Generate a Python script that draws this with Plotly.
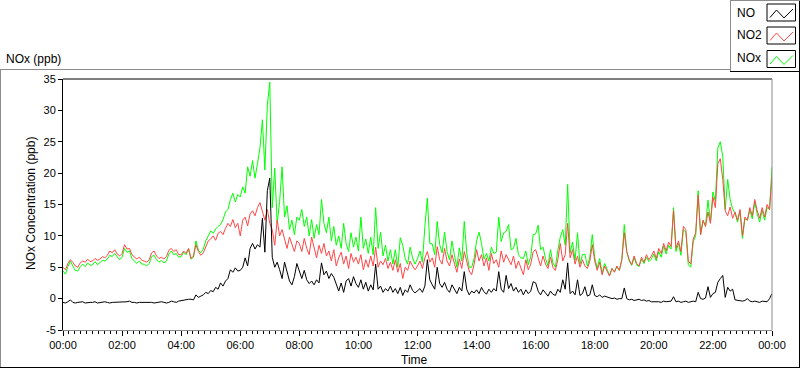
import plotly.graph_objects as go
import pandas as pd

# ---------------- data (5-minute readings, 00:00 .. 24:00) ----------------
times = pd.date_range("2000-01-01 00:00", "2000-01-02 00:00", freq="5min")

no = [
    -0.6, -0.7, -0.5, -0.2, -0.6, -0.7, -0.6, -0.6, -0.5, -0.7, -0.6, -0.6,
    -0.6, -0.5, -0.7, -0.6, -0.6, -0.5, -0.6, -0.7, -0.6, -0.6, -0.5, -0.6,
    -0.6, -0.6, -0.5, -0.4, -0.6, -0.6, -0.7, -0.6, -0.6, -0.5, -0.6, -0.6,
    -0.6, -0.7, -0.6, -0.6, -0.5, -0.6, -0.7, -0.6, -0.4, -0.5, -0.6, -0.4,
    -0.3, -0.2, -0.2, -0.1, -0.1, -0.2, 0.6, 0.2, 0.4, 0.6, 1.0, 0.8,
    1.3, 1.1, 1.8, 1.5, 2.5, 2.0, 2.8, 3.2, 4.6, 4.2, 4.9, 4.4,
    4.5, 5.0, 6.5, 5.2, 8.0, 8.8, 7.9, 8.6, 8.2, 12.8, 7.4, 17.2,
    19.2, 6.6, 5.0, 5.8, 4.6, 3.2, 5.8, 4.2, 2.8, 2.2, 3.5, 5.6,
    4.2, 3.2, 4.5, 3.0, 2.4, 2.8, 2.2, 3.0, 2.5, 5.7, 3.8, 4.4,
    3.2, 4.0, 3.4, 2.2, 1.2, 2.5, 1.0, 2.8, 3.2, 2.0, 3.5, 2.4,
    1.8, 3.0, 1.5, 2.6, 1.2, 2.2, 1.4, 5.5, 1.5, 2.0, 1.0, 1.6,
    1.2, 2.0, 1.0, 1.6, 0.8, 1.8, 0.5, 1.4, 1.0, 2.2, 1.3, 0.9,
    1.2, 1.6, 1.0, 2.0, 6.2, 3.0, 2.2, 1.5, 5.0, 2.4, 1.8, 2.6,
    1.5, 1.0, 2.2, 1.4, 0.8, 1.8, 1.2, 4.3, 1.5, 0.6, 1.2, 0.9,
    1.4, 0.8, 1.8, 1.1, 0.7, 1.5, 1.0, 1.6, 1.2, 4.3, 1.5, 1.0,
    3.7, 1.6, 2.4, 1.2, 1.8, 1.0, 1.5, 0.6, 1.4, 0.8, 1.2, 2.7,
    2.5, 1.2, 0.6, 1.4, 0.9, 0.4, 1.2, 0.7, 0.5, 1.5, 1.0, 3.0,
    1.5, 5.7, 0.8, 1.2, 0.6, 3.0, 0.5, 0.8, 1.9, 0.4, 0.6, 2.2,
    0.5, 0.3, 0.6, 0.2, 0.4, 0.3, 0.1, 0.0, 0.1, -0.1, 0.0, 0.0,
    1.7, 0.0, -0.2, -0.1, -0.3, -0.2, -0.1, -0.3, -0.2, -0.4, -0.3, -0.5,
    -0.5, -0.4, -0.5, -0.6, -0.4, -0.5, -0.5, -0.4, 0.3, -0.5, -0.4, -0.6,
    -0.5, -0.4, -0.6, -0.5, -0.4, -0.5, 1.0, 0.0, -0.1, 0.1, 1.9, 0.2,
    0.8, 1.0, 2.6, 3.2, 3.7, 0.2, 1.8, 1.2, 1.5, -0.2, -0.3, -0.3,
    -0.4, -0.3, 0.0, -0.4, -0.5, -0.4, -0.5, -0.6, -0.4, -0.5, -0.5, 0.0,
    0.8,
]

no2 = [
    5.0, 4.6, 5.6, 6.2, 5.8, 5.2, 5.0, 5.7, 6.0, 5.8, 6.3, 5.9,
    6.0, 6.4, 6.1, 6.3, 6.7, 6.5, 6.9, 7.6, 7.3, 7.8, 7.1, 6.8,
    7.2, 8.6, 7.9, 8.0, 7.0, 6.6, 6.3, 6.6, 6.1, 6.0, 5.8, 6.2,
    7.3, 7.6, 6.8, 6.4, 6.6, 6.3, 6.7, 7.7, 8.0, 7.5, 7.8, 7.0,
    7.0, 7.6, 7.2, 8.0, 6.4, 6.8, 8.6, 7.5, 6.9, 7.3, 8.2, 9.2,
    9.5, 10.0, 9.3, 10.4, 10.7, 10.2, 11.2, 12.0, 11.5, 12.6, 11.3, 12.0,
    10.0, 12.5, 13.0, 11.6, 13.5, 14.0, 13.2, 14.5, 15.3, 14.0, 12.5, 14.2,
    12.0, 11.0, 8.5, 12.5, 10.0, 11.0, 9.5, 8.0, 9.8, 8.5, 7.5, 9.2,
    8.8, 7.5, 9.6, 8.0, 7.0, 9.8, 8.2, 6.5, 8.5, 7.2, 8.8, 6.8,
    7.6, 6.0, 7.8, 5.2, 6.5, 7.4, 5.5, 6.8, 4.8, 7.2, 5.8, 6.6,
    5.5, 7.0, 4.6, 6.2, 5.0, 6.8, 5.2, 8.2, 5.0, 6.0, 5.4, 6.4,
    4.8, 5.8, 4.5, 6.2, 4.2, 5.6, 3.2, 5.0, 4.5, 6.0, 5.2, 4.6,
    5.2, 6.0, 4.8, 6.5, 7.5, 5.8, 6.5, 5.0, 8.3, 6.2, 5.5, 8.0,
    6.0, 5.2, 7.0, 5.5, 4.2, 6.3, 4.8, 7.5, 5.8, 4.4, 3.8, 5.5,
    7.8, 6.0, 7.0, 5.2, 6.5, 4.5, 7.2, 5.6, 6.2, 5.0, 7.6, 5.8,
    7.0, 6.2, 5.4, 6.8, 4.8, 6.0, 5.0, 3.8, 6.2, 4.6, 5.5, 7.5,
    7.8, 6.5, 5.2, 6.8, 5.5, 4.8, 6.6, 5.0, 4.5, 6.2, 8.8, 6.0,
    7.0, 12.0, 6.5, 7.8, 5.5, 6.8, 5.0, 6.2, 5.2, 4.8, 6.0, 8.6,
    6.0, 4.5, 5.8, 3.8, 5.2, 4.4, 3.6, 4.8, 4.2, 5.2, 4.5, 6.2,
    10.5, 7.5, 6.2, 5.4, 6.8, 5.6, 5.2, 6.6, 5.8, 7.0, 6.2, 6.8,
    7.6, 6.4, 8.0, 7.2, 8.8, 7.6, 9.0, 8.3, 14.0, 8.0, 9.2, 7.5,
    11.5, 11.0, 6.0, 5.5, 9.5, 10.5, 16.5, 10.2, 12.5, 11.5, 13.8, 12.0,
    16.2, 14.5, 21.5, 22.3, 19.0, 14.0, 13.2, 14.6, 12.8, 13.8, 12.5, 14.2,
    10.0, 13.0, 12.5, 14.5, 13.2, 15.8, 14.0, 12.8, 14.5, 13.0, 15.0, 14.2,
    19.5,
]

nox = [
    4.4, 3.9, 5.1, 6.0, 5.2, 4.5, 4.4, 5.1, 5.5, 5.1, 5.7, 5.3,
    5.4, 5.9, 5.4, 5.7, 6.1, 6.0, 6.3, 6.9, 6.7, 7.2, 6.6, 6.2,
    6.6, 8.0, 7.4, 7.6, 6.4, 6.0, 5.6, 6.0, 5.5, 5.5, 5.2, 5.6,
    6.7, 6.9, 6.2, 5.8, 6.1, 5.7, 6.0, 7.1, 7.6, 7.0, 7.2, 6.6,
    6.7, 7.4, 7.0, 7.9, 6.3, 6.6, 9.2, 7.7, 7.3, 7.9, 9.2, 10.0,
    10.8, 10.4, 11.1, 11.5, 11.8, 12.6, 13.8, 14.2, 15.8, 16.8, 15.4, 16.6,
    16.2, 17.8, 16.8, 21.0, 19.5, 22.0, 19.2, 21.5, 24.0, 28.5, 20.5, 30.8,
    34.5, 14.5, 20.8, 12.0, 15.5, 21.0, 13.0, 14.8, 11.0, 12.5, 10.2, 13.0,
    12.5, 14.2, 11.5, 13.0, 10.0, 12.6, 9.6, 11.8, 10.2, 15.8, 12.0, 10.5,
    13.0, 9.2, 11.5, 8.5, 10.0, 8.0, 12.0, 8.8, 7.5, 10.5, 8.2, 9.8,
    7.6, 13.0, 8.0, 9.5, 7.2, 9.8, 7.0, 14.5, 8.0, 10.6, 6.8, 8.5,
    6.0, 7.8, 5.5, 7.8, 5.0, 9.7, 8.5, 6.4, 5.5, 8.2, 6.5, 5.5,
    6.4, 7.6, 5.8, 11.5, 16.0, 8.8, 8.7, 7.0, 12.3, 8.6, 7.3, 10.6,
    7.5, 6.2, 9.2, 6.9, 5.0, 8.1, 6.0, 12.3, 7.3, 5.0, 5.0, 6.4,
    9.2, 10.6, 8.8, 6.3, 7.2, 6.0, 8.2, 7.2, 7.4, 13.0, 9.1, 10.5,
    10.7, 11.8, 7.8, 8.0, 9.6, 7.0, 6.5, 6.4, 7.6, 5.4, 6.7, 10.2,
    10.3, 11.7, 7.8, 8.2, 6.4, 5.2, 7.8, 5.7, 5.0, 7.7, 9.8, 11.0,
    8.5, 18.2, 7.3, 9.0, 6.1, 10.5, 5.5, 7.0, 7.1, 5.2, 6.6, 10.2,
    6.5, 4.8, 6.4, 4.0, 5.6, 4.7, 3.7, 4.8, 4.3, 5.1, 4.5, 6.2,
    11.8, 7.5, 6.0, 5.3, 6.5, 5.4, 5.1, 6.3, 5.6, 6.6, 5.9, 6.3,
    7.1, 6.0, 7.5, 6.6, 8.4, 7.1, 8.5, 7.9, 14.5, 7.5, 8.8, 6.9,
    11.0, 10.6, 5.4, 5.0, 9.1, 10.0, 17.2, 10.2, 12.4, 11.6, 15.7, 12.2,
    17.0, 15.5, 24.0, 25.0, 22.7, 14.2, 19.0, 15.8, 14.3, 13.6, 12.2, 13.9,
    9.6, 12.7, 12.5, 14.1, 12.7, 15.4, 13.5, 12.2, 14.1, 12.5, 14.5, 14.2,
    21.0,
]

series_names = ["NO", "NO2", "NOx"]
y_ticks = [-5, 0, 5, 10, 15, 20, 25, 30, 35]
y_tick_labels = ["-5", "0", "5", "10", "15", "20", "25", "30", "35"]

# ---------------- layout helpers ----------------
W, H = 800, 369
L, R, T, B = 63, 28, 79, 39
PW, PH = W - L - R, H - T - B


def px(x):
    return (x - L) / PW


def py(y):
    return (H - B - y) / PH


FONT = "Liberation Sans, Arial, sans-serif"
GRAY = "#8c8c8c"
colors = {"NO": "#000000", "NO2": "#ff4646", "NOx": "#00ff00"}
data = {"NO": no, "NO2": no2, "NOx": nox}

fig = go.Figure()
for name in ["NOx", "NO2", "NO"]:
    fig.add_trace(go.Scatter(
        x=times, y=data[name], mode="lines", name=name,
        line=dict(color=colors[name], width=1),
        showlegend=False, hoverinfo="skip",
    ))

fig.update_layout(
    width=W, height=H,
    margin=dict(l=L, r=R, t=T, b=B, pad=0),
    paper_bgcolor="white", plot_bgcolor="white",
    font=dict(family=FONT, size=11, color="black"),
    showlegend=False,
)

fig.update_xaxes(
    type="date",
    range=[times[0], times[-1]],
    tick0="2000-01-01 00:00", dtick=7200000, tickformat="%H:%M",
    ticks="outside", ticklen=5, tickwidth=1, tickcolor="black",
    tickfont=dict(family=FONT, size=11, color="black"),
    showline=True, linecolor=GRAY, linewidth=1,
    showgrid=False, zeroline=False,
    minor=dict(ticks="outside", ticklen=3, tickcolor="black", tickwidth=1,
               dtick=720000, tick0="2000-01-01 00:00", showgrid=False),
)
fig.update_yaxes(
    range=[-5, 35], tickmode="array", tickvals=y_ticks, ticktext=y_tick_labels,
    ticks="outside", ticklen=4, tickwidth=1, tickcolor="black",
    tickfont=dict(family=FONT, size=11, color="black"),
    showline=True, linecolor="black", linewidth=1,
    showgrid=False, zeroline=False,
)

shapes = []
shapes.append(dict(type="line", xref="paper", yref="paper", x0=0, x1=1, y0=1, y1=1,
                   line=dict(color="black", width=1)))
shapes.append(dict(type="line", xref="paper", yref="paper", x0=1, x1=1, y0=0, y1=1,
                   line=dict(color=GRAY, width=1)))
shapes.append(dict(type="line", xref="paper", yref="paper", x0=px(0), x1=px(730), y0=py(69.5), y1=py(69.5),
                   line=dict(color=GRAY, width=1)))
shapes.append(dict(type="line", xref="paper", yref="paper", x0=px(0.5), x1=px(0.5), y0=py(69.5), y1=py(367),
                   line=dict(color=GRAY, width=1)))
shapes.append(dict(type="line", xref="paper", yref="paper", x0=px(0), x1=px(800), y0=py(367.5), y1=py(367.5),
                   line=dict(color="black", width=1)))
shapes.append(dict(type="line", xref="paper", yref="paper", x0=px(799.5), x1=px(799.5), y0=py(0), y1=py(367.5),
                   line=dict(color="black", width=1)))
shapes.append(dict(type="line", xref="paper", yref="paper", x0=px(730.5), x1=px(730.5), y0=py(0), y1=py(71.5),
                   line=dict(color=GRAY, width=1)))
shapes.append(dict(type="line", xref="paper", yref="paper", x0=px(730), x1=px(800), y0=py(0.5), y1=py(0.5),
                   line=dict(color=GRAY, width=1)))
shapes.append(dict(type="line", xref="paper", yref="paper", x0=px(730), x1=px(800), y0=py(71.5), y1=py(71.5),
                   line=dict(color="black", width=1)))

annotations = []
row_tops = [4, 27, 50.5]
text_centers = [13.3, 35.5, 58.3]
for i, name in enumerate(series_names):
    top = row_tops[i]
    shapes.append(dict(type="rect", xref="paper", yref="paper",
                       x0=px(767), x1=px(795.5), y0=py(top), y1=py(top + 17),
                       line=dict(color="black", width=1), fillcolor="white"))
    pts = [(770, top + 13.5), (776.5, top + 6), (784, top + 14), (793, top + 5)]
    path = "M " + " L ".join(f"{px(a):.5f},{py(b):.5f}" for a, b in pts)
    shapes.append(dict(type="path", xref="paper", yref="paper", path=path,
                       line=dict(color=colors[name], width=1)))
    annotations.append(dict(text=name, xref="paper", yref="paper", x=px(735), y=py(text_centers[i]),
                            xanchor="left", yanchor="middle", showarrow=False,
                            font=dict(family=FONT, size=12, color="black")))

annotations.append(dict(text="NOx (ppb)", xref="paper", yref="paper", x=px(4), y=py(59),
                        xanchor="left", yanchor="middle", showarrow=False,
                        font=dict(family=FONT, size=12, color="black")))
annotations.append(dict(text="NOx Concentration (ppb)", xref="paper", yref="paper", x=px(31), y=py(204),
                        xanchor="center", yanchor="middle", textangle=-90, showarrow=False,
                        font=dict(family=FONT, size=12, color="black")))
annotations.append(dict(text="Time", xref="paper", yref="paper", x=px(414), y=py(360),
                        xanchor="center", yanchor="middle", showarrow=False,
                        font=dict(family=FONT, size=12, color="black")))

fig.update_layout(shapes=shapes, annotations=annotations)
fig.write_html(
    "out.html",
    config={"displayModeBar": False},
    post_script="document.body.style.margin='0';document.body.style.padding='0';",
)
